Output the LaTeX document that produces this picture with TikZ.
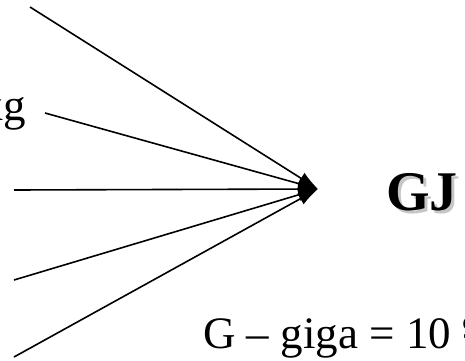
\documentclass[tikz,border=0pt]{standalone}
\usepackage{fontspec}
\setmainfont{Liberation Serif}
\usetikzlibrary{arrows.meta}
\tikzset{
  feed/.style={line width=1.6pt, -{Latex[length=20pt,width=13pt]}},
  big/.style={font=\fontsize{45}{54}\selectfont, inner sep=0pt},
  unit/.style={font=\fontsize{56}{66}\selectfont\bfseries, inner sep=0pt, anchor=base west}
}
\begin{document}
\begin{tikzpicture}[x=1pt,y=1pt]
    \useasboundingbox (0,0) rectangle (465,360);
    \clip (0,0) rectangle (465,360);

    % Ends of the lines
    \coordinate (tip) at (318,171);
    \coordinate (s1) at (30,353);
    \coordinate (s2) at (45,247);
    \coordinate (s3) at (14,170);
    \coordinate (s4) at (14,80);
    \coordinate (s5) at (14,3);

    % Lines into the tip
    \foreach \s in {s1,s2,s3,s4,s5} \draw[feed] (\s) -- (tip);

    % Labels
    \node[big,anchor=base east] (kg) at (26,240) {kg};
    \node[big,anchor=base west] (giga) at (203,12) {G -- giga = 10 \textsuperscript{9}};

    % GJ with its shadow
    \node[unit,gray!45] (gjshadow) at (389,147) {GJ};
    \node[unit] (gj) at (386,150) {GJ};
\end{tikzpicture}
\end{document}
